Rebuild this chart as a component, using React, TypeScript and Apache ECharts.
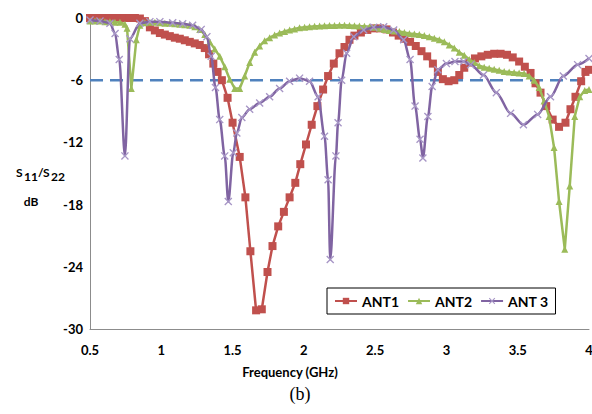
import React, { useEffect, useRef } from "react";
import * as echarts from "echarts";

// Frequency (GHz) / S11-S22 (dB) values
const ant1Freq = [0.5,0.535,0.57,0.605,0.64,0.675,0.71,0.745,0.78,0.815,0.85,0.885,0.92,0.955,0.99,1.025,1.06,1.095,1.13,1.165,1.2,1.235,1.27,1.305,1.335,1.365,1.395,1.425,1.465,1.5,1.55,1.59,1.625,1.665,1.705,1.745,1.78,1.82,1.86,1.9,1.94,1.975,2.015,2.055,2.095,2.135,2.17,2.21,2.25,2.285,2.32,2.355,2.4,2.445,2.49,2.535,2.58,2.625,2.665,2.705,2.745,2.785,2.825,2.865,2.905,2.94,2.975,3.015,3.055,3.09,3.125,3.16,3.2,3.245,3.29,3.335,3.38,3.425,3.465,3.51,3.55,3.59,3.625,3.66,3.7,3.745,3.79,3.835,3.87,3.905,3.945,3.975,4.0];
const ant1Db = [0,0,0,0,0,0,0,0,0,0,-0.05,-0.3,-0.9,-1.2,-1.45,-1.6,-1.75,-1.9,-2.0,-2.15,-2.3,-2.45,-2.6,-2.9,-3.5,-4.4,-5.2,-6.0,-7.7,-10.1,-13.4,-17.3,-22.5,-28.2,-28.1,-24.5,-22,-20.1,-18.7,-17.3,-15.9,-14.1,-12.2,-10.3,-8.5,-6.9,-5.6,-4.4,-3.4,-2.8,-2.1,-1.7,-1.4,-1.15,-1.0,-1.0,-1.1,-1.4,-1.7,-2.0,-2.3,-2.7,-3.2,-3.7,-4.4,-5.2,-5.9,-6.1,-6.0,-5.5,-4.8,-4.3,-3.9,-3.7,-3.55,-3.45,-3.45,-3.55,-3.8,-4.2,-4.7,-5.3,-6.3,-7.2,-8.5,-9.8,-10.5,-10.1,-8.8,-7.6,-6.1,-5.2,-5.0];

const ant2Freq = [0.5,0.535,0.57,0.605,0.64,0.675,0.71,0.745,0.76,0.79,0.825,0.85,0.885,0.92,0.955,0.99,1.025,1.06,1.095,1.13,1.165,1.2,1.235,1.27,1.305,1.34,1.375,1.41,1.445,1.48,1.515,1.55,1.585,1.62,1.655,1.69,1.725,1.76,1.795,1.83,1.865,1.9,1.935,1.97,2.005,2.04,2.075,2.11,2.145,2.18,2.215,2.25,2.285,2.32,2.355,2.39,2.425,2.46,2.495,2.53,2.565,2.6,2.635,2.67,2.705,2.74,2.775,2.81,2.845,2.88,2.915,2.95,2.985,3.02,3.055,3.09,3.125,3.16,3.195,3.23,3.265,3.3,3.335,3.37,3.405,3.44,3.475,3.51,3.545,3.58,3.615,3.65,3.685,3.72,3.755,3.79,3.83,3.865,3.9,3.935,3.97,4.0];
const ant2Db = [-0.3,-0.3,-0.3,-0.35,-0.35,-0.4,-0.4,-0.6,-1.0,-6.8,-2.1,-0.7,-0.45,-0.4,-0.4,-0.45,-0.5,-0.5,-0.55,-0.6,-0.65,-0.7,-0.85,-1.1,-1.6,-2.3,-3.0,-3.7,-4.7,-5.9,-6.8,-6.8,-5.6,-4.3,-3.3,-2.7,-2.2,-1.9,-1.65,-1.45,-1.3,-1.15,-1.05,-0.95,-0.9,-0.85,-0.8,-0.78,-0.75,-0.73,-0.72,-0.7,-0.7,-0.72,-0.75,-0.78,-0.8,-0.85,-0.9,-1.0,-1.1,-1.2,-1.25,-1.3,-1.4,-1.5,-1.55,-1.6,-1.7,-1.8,-1.95,-2.1,-2.3,-2.6,-2.9,-3.3,-3.6,-4.0,-4.3,-4.6,-4.75,-4.85,-4.95,-5.05,-5.15,-5.2,-5.25,-5.3,-5.35,-5.6,-6.0,-6.7,-8.0,-9.5,-12.5,-17.7,-22.3,-16.2,-9.5,-7.6,-7.0,-6.9];

const ant3Freq = [0.5,0.57,0.64,0.676,0.705,0.745,0.78,0.85,0.92,0.99,1.08,1.15,1.22,1.28,1.32,1.35,1.38,1.41,1.445,1.47,1.505,1.53,1.565,1.62,1.69,1.76,1.83,1.9,1.97,2.04,2.1,2.145,2.17,2.185,2.225,2.24,2.265,2.3,2.35,2.42,2.49,2.56,2.63,2.7,2.745,2.78,2.815,2.835,2.87,2.9,2.94,3.0,3.06,3.12,3.17,3.26,3.35,3.45,3.54,3.64,3.73,3.82,3.92,4.0];
const ant3Db = [-0.2,-0.3,-0.5,-1.5,-4.0,-13.3,-2.0,-0.5,-0.35,-0.35,-0.45,-0.55,-0.7,-1.1,-1.8,-3.7,-6.7,-9.8,-13.3,-17.7,-13.0,-11.1,-9.6,-8.8,-8.2,-7.6,-6.8,-6.1,-5.8,-6.1,-7.6,-11.4,-15.6,-23.3,-13.3,-10.1,-6.0,-3.4,-1.8,-1.15,-0.9,-0.85,-1.15,-2.1,-4.0,-8.5,-11.7,-13.5,-9.5,-6.6,-5.0,-4.4,-4.2,-4.2,-4.5,-5.5,-7.2,-9.2,-10.3,-9.3,-7.6,-5.6,-4.5,-3.9];

const refFreq = [0.5, 4.0];
const refDb = [-6, -6];

const seriesNames = ["ANT1", "ANT2", "ANT 3"];
const xTicks = { min: 0.5, max: 4, interval: 0.5 };
const yTicks = { min: -30, max: 0, interval: 6 };

const pair = (xs: number[], ys: number[]) => xs.map((x, i) => [x, ys[i]]);

const X_SYMBOL =
  "path://M0,1.2 L1.2,0 L5,3.8 L8.8,0 L10,1.2 L6.2,5 L10,8.8 L8.8,10 L5,6.2 L1.2,10 L0,8.8 L3.8,5 Z";

const FONT = "Lato, 'Liberation Sans', sans-serif";

export default function App() {
  const ref = useRef<HTMLDivElement>(null);

  useEffect(() => {
    document.body.style.margin = "0";
    if (!ref.current) return;
    const chart = echarts.init(ref.current, undefined, { renderer: "svg" });
    chart.setOption({
      animation: false,
      backgroundColor: "#ffffff",
      grid: { left: 90, right: 3, top: 18, bottom: 85, outerBoundsMode: "none", containLabel: false },
      xAxis: {
        type: "value",
        min: xTicks.min,
        max: xTicks.max,
        interval: xTicks.interval,
        axisLine: { show: true, onZero: false, lineStyle: { color: "#8c8c8c", width: 1 } },
        axisTick: { show: false },
        splitLine: { show: false },
        axisLabel: { margin: 14, color: "#000", fontFamily: FONT, fontWeight: "bold", fontSize: 13 },
      },
      yAxis: {
        type: "value",
        min: yTicks.min,
        max: yTicks.max,
        interval: yTicks.interval,
        axisLine: { show: true, onZero: false, lineStyle: { color: "#8c8c8c", width: 1 } },
        axisTick: { show: false },
        splitLine: { show: false },
        axisLabel: { margin: 7, color: "#000", fontFamily: FONT, fontWeight: "bold", fontSize: 13 },
      },
      legend: {
        data: seriesNames,
        left: 327,
        top: 288,
        orient: "horizontal",
        padding: [6, 7, 6, 7],
        borderColor: "#000",
        borderWidth: 1,
        itemWidth: 22,
        itemHeight: 8,
        itemGap: 8,
        textStyle: { color: "#000", fontFamily: FONT, fontWeight: "bold", fontSize: 14 },
        backgroundColor: "#fff",
      },
      series: [
        {
          name: "ref",
          type: "line",
          data: pair(refFreq, refDb),
          showSymbol: false,
          symbol: "none",
          lineStyle: { color: "#4f81bd", width: 2.5, type: [13, 7] },
          silent: true,
          z: 1,
        },
        {
          name: seriesNames[0],
          type: "line",
          data: pair(ant1Freq, ant1Db),
          symbol: "rect",
          symbolSize: 8,
          showAllSymbol: true,
          color: "#c0504d",
          itemStyle: { color: "#c0504d" },
          lineStyle: { color: "#c0504d", width: 2.5 },
          z: 2,
        },
        {
          name: seriesNames[1],
          type: "line",
          data: pair(ant2Freq, ant2Db),
          symbol: "triangle",
          symbolSize: 7,
          showAllSymbol: true,
          color: "#9bbb59",
          itemStyle: { color: "#9bbb59" },
          lineStyle: { color: "#9bbb59", width: 2.5 },
          z: 3,
        },
        {
          name: seriesNames[2],
          type: "line",
          data: pair(ant3Freq, ant3Db),
          symbol: X_SYMBOL,
          symbolSize: 8,
          showAllSymbol: true,
          smooth: 0.3,
          smoothMonotone: "x",
          color: "#8064a2",
          itemStyle: { color: "#a796c6" },
          lineStyle: { color: "#8064a2", width: 2.5 },
          z: 4,
        },
      ],
      graphic: [
        { type: "text", x: 16, y: 172, style: { text: "S", font: `bold 12px ${FONT}`, fill: "#000", textVerticalAlign: "middle" } },
        { type: "text", x: 24, y: 176, style: { text: "11", font: `bold 12px ${FONT}`, fill: "#000", textVerticalAlign: "middle" } },
        { type: "text", x: 38, y: 172, style: { text: "/", font: `bold 12px ${FONT}`, fill: "#000", textVerticalAlign: "middle" } },
        { type: "text", x: 43, y: 172, style: { text: "S", font: `bold 12px ${FONT}`, fill: "#000", textVerticalAlign: "middle" } },
        { type: "text", x: 51, y: 176, style: { text: "22", font: `bold 12px ${FONT}`, fill: "#000", textVerticalAlign: "middle" } },
        { type: "text", x: 31, y: 201, style: { text: "dB", font: `bold 12px ${FONT}`, fill: "#000", textAlign: "center", textVerticalAlign: "middle" } },
        { type: "text", x: 290, y: 372, style: { text: "Frequency (GHz)", font: `bold 13px ${FONT}`, fill: "#000", textAlign: "center", textVerticalAlign: "middle" } },
        { type: "text", x: 300, y: 394, style: { text: "(b)", font: `18px 'Liberation Serif', 'Times New Roman', serif`, fill: "#000", textAlign: "center", textVerticalAlign: "middle" } },
      ],
    });
    return () => chart.dispose();
  }, []);

  return (
    <div
      ref={ref}
      style={{ width: 592, height: 414, position: "fixed", left: 0, top: 0, background: "#fff" }}
    />
  );
}
